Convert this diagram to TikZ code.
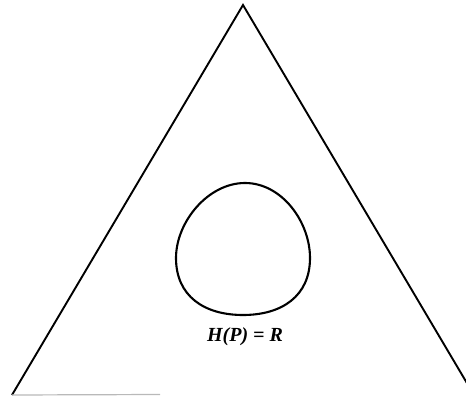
\documentclass[tikz,border=0pt]{standalone}
\usepackage{fontspec}
\setmainfont{Liberation Serif}
\usetikzlibrary{calc}
\tikzset{
  outl/.style={black, line width=1.9pt, line join=miter},
  blob/.style={black, line width=2.1pt},
  faint/.style={gray!55, line width=1.2pt},
  lbl/.style={font=\fontsize{20}{24}\selectfont\bfseries\itshape, inner sep=0pt},
}
\begin{document}
\begin{tikzpicture}[x=1pt, y=-1pt]
    \useasboundingbox (0,0) rectangle (466,396);
    \clip (0,0) rectangle (466,396);
    \coordinate (apex) at (243,5);
    \coordinate (bl) at (12,395);
    \coordinate (br) at (474,395);
    \coordinate (cut) at (160,394.5);
    \draw[outl] (bl) -- (apex) -- (br);
    \draw[faint] (bl) -- (cut);
    % closed curve, narrow top and broad bottom
    \coordinate (top) at (245,183);
    \coordinate (rt) at (310,258);
    \coordinate (bot) at (243,315);
    \coordinate (lf) at (176,258);
    \draw[blob] (top) .. controls (282,183) and (310,222) .. (rt)
      .. controls (310,296) and (282,315) .. (bot)
      .. controls (204,315) and (176,296) .. (lf)
      .. controls (176,222) and (208,183) .. (top) -- cycle;
    \node[lbl] (hpr) at (245,337) {H(P)\hspace{5pt}=\hspace{5pt}R};
  \end{tikzpicture}
\end{document}
